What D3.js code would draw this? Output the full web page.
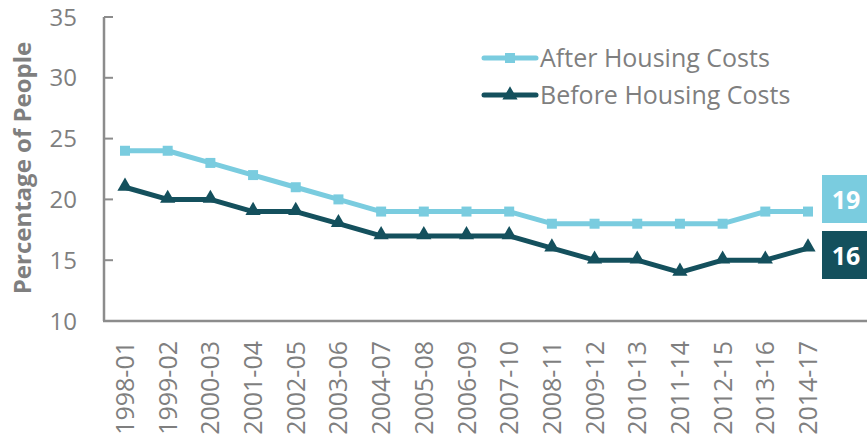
<!DOCTYPE html>
<html>
<head>
<meta charset="utf-8">
<script src="https://cdn.jsdelivr.net/npm/d3@7"></script>
<style>
  body { margin: 0; background: #fff; }
  text { font-family: 'Open Sans', 'Noto Sans', sans-serif; }
</style>
</head>
<body>
<svg id="chart" width="867" height="441"></svg>
<script>
const years = ['1998-01','1999-02','2000-03','2001-04','2002-05','2003-06','2004-07','2005-08','2006-09','2007-10','2008-11','2009-12','2010-13','2011-14','2012-15','2013-16','2014-17'];
const afterHC = [24,24,23,22,21,20,19,19,19,19,18,18,18,18,18,19,19];
const beforeHC = [21,20,20,19,19,18,17,17,17,17,16,15,15,14,15,15,16];
const yTicks = [10,15,20,25,30,35];

const light = '#7accdf', dark = '#14505d', grey = '#7f7f7f';

const svg = d3.select('#chart');

const x = d3.scalePoint().domain(years).range([125, 808]);
const y = d3.scaleLinear().domain([10, 35]).range([321, 17]);

// axes
svg.append('line')
   .attr('x1', 104).attr('x2', 104)
   .attr('y1', y(35)).attr('y2', y(10))
   .attr('stroke', '#8c8c8c').attr('stroke-width', 2.5)

svg.append('line')
   .attr('x1', 103).attr('x2', 867)
   .attr('y1', y(10)).attr('y2', y(10))
   .attr('stroke', '#8c8c8c').attr('stroke-width', 2.5)

svg.selectAll('line.ytick')
   .data(yTicks.slice(1))
   .enter()
   .append('line')
   .attr('class', 'ytick')
   .attr('x1', 104).attr('x2', 113)
   .attr('y1', d => y(d)).attr('y2', d => y(d))
   .attr('stroke', '#8c8c8c').attr('stroke-width', 2)

svg.selectAll('text.ylab')
   .data(yTicks)
   .enter()
   .append('text')
   .attr('class', 'ylab')
   .attr('x', 77)
   .attr('y', d => y(d) + 8.5)
   .attr('fill', grey)
   .style('font-size', '24px')
   .style('text-anchor', 'end')
   .text(d => d)

svg.append('text')
   .attr('transform', 'translate(31,168) rotate(-90)')
   .attr('fill', grey)
   .style('font-size', '24px')
   .style('font-weight', 'bold')
   .style('text-anchor', 'middle')
   .text('Percentage of People')

svg.selectAll('text.xlab')
   .data(years)
   .enter()
   .append('text')
   .attr('class', 'xlab')
   .attr('transform', d => `translate(${x(d) + 9},341) rotate(-90)`)
   .attr('fill', grey)
   .style('font-size', '25px')
   .style('text-anchor', 'end')
   .text(d => d)

// series
const line = d3.line().x((d, i) => x(years[i])).y(d => y(d));

svg.append('path')
   .datum(afterHC)
   .attr('d', line)
   .attr('fill', 'none')
   .attr('stroke', light)
   .attr('stroke-width', 5)
   .attr('stroke-linejoin', 'round')

svg.append('path')
   .datum(beforeHC)
   .attr('d', line)
   .attr('fill', 'none')
   .attr('stroke', dark)
   .attr('stroke-width', 5)
   .attr('stroke-linejoin', 'round')

const sq = d3.symbol().type(d3.symbolSquare).size(100);
const tri = d3.symbol().type(d3.symbolTriangle).size(100);

svg.selectAll('path.sq')
   .data(afterHC)
   .enter()
   .append('path')
   .attr('class', 'sq')
   .attr('d', sq)
   .attr('transform', (d, i) => `translate(${x(years[i])},${y(d)})`)
   .attr('fill', light)

svg.selectAll('path.tri')
   .data(beforeHC)
   .enter()
   .append('path')
   .attr('class', 'tri')
   .attr('d', tri)
   .attr('transform', (d, i) => `translate(${x(years[i])},${y(d) - 1})`)
   .attr('fill', dark)

// legend
const legend = [
  {name: 'After Housing Costs', color: light, sym: sq, ly: 58},
  {name: 'Before Housing Costs', color: dark, sym: tri, ly: 95}
];

let lg = svg.selectAll('g.legend')
   .data(legend)
   .enter()
   .append('g')
   .attr('class', 'legend')

lg.append('line')
   .attr('x1', 484).attr('x2', 536)
   .attr('y1', d => d.ly).attr('y2', d => d.ly)
   .attr('stroke', d => d.color)
   .attr('stroke-width', 5)
   .attr('stroke-linecap', 'round')

lg.append('path')
   .attr('d', d => d.sym())
   .attr('transform', d => `translate(510,${d.ly})`)
   .attr('fill', d => d.color)

lg.append('text')
   .attr('x', 540)
   .attr('y', d => d.ly + 9)
   .attr('fill', grey)
   .style('font-size', '25px')
   .text(d => d.name)

// end-value boxes
const endVals = [
  {v: afterHC[afterHC.length - 1], color: light, top: 175},
  {v: beforeHC[beforeHC.length - 1], color: dark, top: 231}
];

let eb = svg.selectAll('g.endbox')
   .data(endVals)
   .enter()
   .append('g')
   .attr('class', 'endbox')

eb.append('rect')
   .attr('x', 822).attr('y', d => d.top)
   .attr('width', 45).attr('height', 48)
   .attr('fill', d => d.color)

eb.append('text')
   .attr('x', 846).attr('y', d => d.top + 34)
   .attr('fill', '#fff')
   .style('font-size', '25px')
   .style('font-weight', 'bold')
   .style('text-anchor', 'middle')
   .text(d => d.v)
</script>
</body>
</html>
